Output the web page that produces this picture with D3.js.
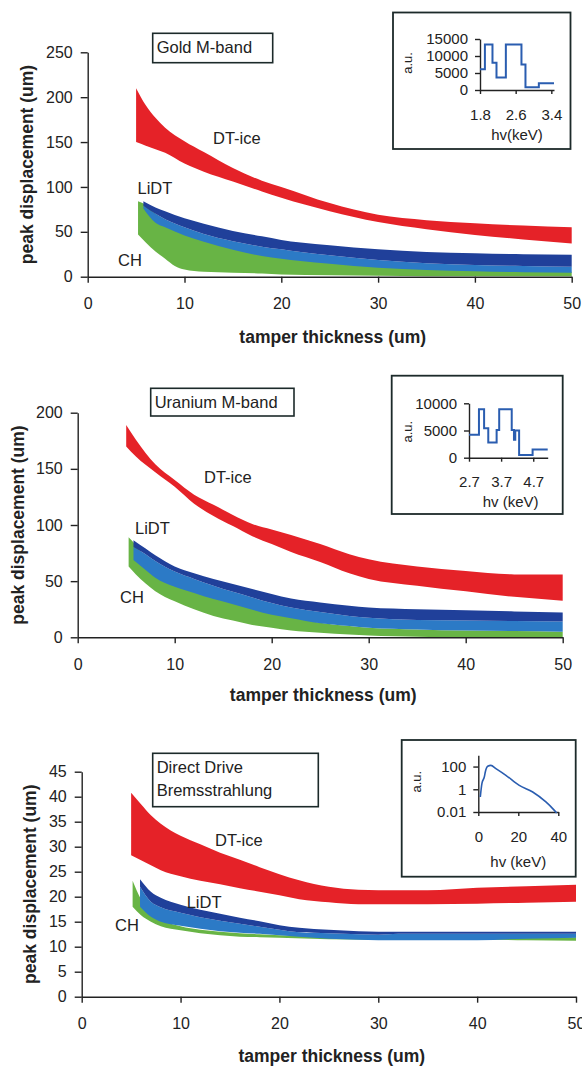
<!DOCTYPE html>
<html>
<head>
<meta charset="utf-8">
<script src="https://cdn.jsdelivr.net/npm/d3@7"></script>
<style>
  body { margin: 0; background: #fff; }
  svg { display: block; font-family: "Liberation Sans", Arial, sans-serif; }
</style>
</head>
<body>
<svg id="chart" width="582" height="1066"></svg>
<script>
// ---- Gold M-band ----
const goldDtX = [5, 6, 7, 8, 10, 12, 15, 18, 20, 25, 30, 35, 40, 45, 50];
const goldDtHi = [210, 191, 177, 166, 151, 139, 121, 107, 100, 82, 69, 63, 59.5, 57, 55];
const goldDtLo = [150, 146, 142, 138, 126, 117, 106, 95, 88, 73, 61, 53, 46.5, 41.5, 37];
const goldLiX = [5.75, 7, 8, 10, 12, 15, 18, 20, 22, 25, 30, 35, 40, 45, 50];
const goldLiTop = [84, 77, 73, 65, 59, 51, 45, 41, 38, 35, 30.5, 27.5, 26, 25, 24.5];
const goldLiMid = [79, 70, 64, 55, 47.5, 39.5, 33.5, 30.5, 27.5, 24, 18.5, 15, 13, 12, 11];
const goldLiBot = [76, 60, 55, 46, 39, 30, 23, 20, 17.5, 14.5, 10, 7.5, 6, 5, 4.5];
const goldChX = [5.2, 6, 7, 8, 9, 10, 12, 15, 18, 20, 25, 30, 35, 40, 45, 50];
const goldChTop = [84, 80, 70, 62, 56, 51, 42, 33, 26, 22, 16, 11.5, 8.5, 7, 6, 5.5];
const goldChBot = [47, 38, 28, 20, 12, 8, 5.5, 4.5, 3.5, 2.5, 1.5, 1, 0.5, 0.5, 0.5, 0.5];
const goldSpecX = [1.8, 1.91, 2.08, 2.17, 2.38, 2.73, 2.82, 3.12, 3.46];
const goldSpecY = [6100, 13400, 8000, 3700, 13400, 7500, 800, 2000, 2000];

// ---- Uranium M-band ----
const uDtX = [5, 6, 8, 10, 12, 14, 16, 18, 20, 22, 25, 28, 30, 35, 40, 45, 50];
const uDtHi = [189, 176, 154, 140, 127, 118, 109, 101, 96, 91, 83, 74, 69.5, 63, 59, 56, 56];
const uDtLo = [170, 161, 147, 134, 119, 108, 99, 90, 83, 76, 67, 57, 52, 46, 41, 36, 32.5];
const uLiX = [5.75, 7, 8, 10, 12, 14, 16, 18, 20, 22, 25, 28, 30, 35, 40, 45, 50];
const uLiTop = [86.5, 79, 73, 63, 57, 52, 47.5, 43, 38.5, 34.5, 31, 28, 26.5, 25, 24, 23, 22];
const uLiMid = [80.5, 74, 68, 58.5, 52, 46, 40.5, 35.5, 30.5, 26.5, 22.5, 19, 17.5, 15.5, 15, 14.5, 14];
const uLiBot = [68.8, 60, 53, 45, 39.5, 34, 29.5, 24.5, 20, 17, 12.5, 10, 8.5, 7, 6, 5.5, 5];
const uChX = [5.25, 6, 7, 8, 10, 12, 14, 16, 18, 20, 22, 25, 28, 30, 35, 40, 45, 50];
const uChTop = [89, 82, 70, 62, 50, 43, 37, 32, 26.5, 21.5, 18, 13, 10, 8.5, 7, 6, 5.5, 5];
const uChBot = [63, 56, 48, 41, 32, 25, 19, 15, 11, 8.5, 6, 4, 2.5, 1.5, 0.5, 0, 0, 0];
const uSpecX = [2.7, 3.01, 3.17, 3.3, 3.56, 3.64, 4.03, 4.1, 4.14, 4.26, 4.68, 5.15];
const uSpecY = [4200, 8900, 5400, 2800, 5100, 8900, 5100, 3300, 5000, 500, 1500, 1500];

// ---- Direct Drive Bremsstrahlung ----
const ddDtX = [5, 6, 7, 8, 10, 12, 14, 16, 18, 20, 22, 25, 28, 30, 35, 40, 45, 50];
const ddDtHi = [40.8, 38.5, 36.3, 34.6, 32.2, 30.5, 28.8, 27.4, 25.9, 24.5, 23.3, 22, 21.4, 21.3, 21.3, 21.8, 22.1, 22.4];
const ddDtLo = [28.3, 27.3, 26.3, 25.3, 24.1, 23.2, 22.5, 21.7, 21, 20.3, 19.5, 18.9, 18.5, 18.5, 18.5, 18.6, 18.8, 19];
const ddLiX = [5.9, 7, 8, 10, 12, 14, 16, 18, 20, 22, 25, 28, 30, 32, 35, 40, 45, 50];
const ddLiTop = [23.5, 21, 19.8, 18.4, 17.4, 16.6, 15.8, 15.1, 14.3, 13.8, 13.4, 13.1, 13, 13, 13, 13, 13, 13];
const ddLiMid = [22, 19, 17.9, 16.8, 15.9, 15.2, 14.6, 14, 13.4, 12.9, 12.7, 12.5, 12.4, 12.6, 12.6, 12.6, 12.6, 12.6];
const ddLiBot = [18, 16, 15, 14.2, 13.6, 13.1, 12.8, 12.6, 12.3, 12, 11.6, 11.4, 11.3, 11.3, 11.3, 11.3, 11.6, 11.8];
const ddChX = [5.15, 6, 7, 8, 10, 12, 14, 16, 18, 20, 25, 30, 35, 40, 45, 50];
const ddChTop = [23.2, 19.5, 17, 15.5, 14.1, 13.4, 13, 12.7, 12.5, 12.3, 12, 11.8, 11.7, 11.7, 11.8, 11.9];
const ddChBot = [18, 16.3, 15, 14.1, 13.3, 12.7, 12.3, 12, 11.9, 11.8, 11.5, 11.4, 11.4, 11.4, 11.3, 11.2];
const ddSpecX = [1, 1.8, 3, 3.5, 4.7, 6.3, 8.8, 13.8, 20.5, 27.2, 33.8, 37.2, 39.2];
const ddSpecY = [0.21, 3.2, 12, 33, 105, 126, 66, 17, 2.2, 0.58, 0.077, 0.02, 0.008];

// ---- axis ticks ----
const xTicks = [0, 10, 20, 30, 40, 50];
const goldYTicks = [0, 50, 100, 150, 200, 250];
const uYTicks = [0, 50, 100, 150, 200];
const ddYTicks = [0, 5, 10, 15, 20, 25, 30, 35, 40, 45];
const goldSpecXTicks = [1.8, 2.6, 3.4];
const goldSpecYTicks = [0, 5000, 10000, 15000];
const uSpecXTicks = [2.7, 3.7, 4.7];
const uSpecYTicks = [0, 5000, 10000];
const ddSpecXTicks = [0, 20, 40];
const ddSpecYTicks = [0.01, 1, 100];

const RED = '#e52228';
const NAVY = '#20409a';
const BLUE = '#2c7ac6';
const GREEN = '#68b445';
const INK = '#222';

const svg = d3.select('#chart');

function band(g, x, y, xs, lo, hi, color) {
  const rows = xs.map((d, i) => ({ x: d, lo: lo[i], hi: hi[i] }));
  g.append('path')
    .datum(rows)
    .attr('fill', color)
    .attr('d', d3.area()
      .curve(d3.curveMonotoneX)
      .x(d => x(d.x))
      .y0(d => y(d.lo))
      .y1(d => y(d.hi)));
}

function styleAxis(sel, fontSize) {
  sel.select('.domain').attr('stroke', INK).attr('stroke-width', 1.4);
  sel.selectAll('.tick line').attr('stroke', INK).attr('stroke-width', 1.4);
  sel.selectAll('.tick text').attr('fill', INK).style('font-size', fontSize + 'px');
}

function drawInset(o) {
  const g = svg.append('g');
  g.append('rect')
    .attr('x', o.box[0]).attr('y', o.box[1])
    .attr('width', o.box[2] - o.box[0]).attr('height', o.box[3] - o.box[1])
    .attr('fill', '#fff').attr('stroke', '#1c2a2a').attr('stroke-width', 1.8);

  const x = d3.scaleLinear().domain(o.xDomain).range([o.left, o.right]);
  const y = (o.log ? d3.scaleLog() : d3.scaleLinear()).domain(o.yDomain).range([o.bottom, o.top]);

  g.append('g')
    .attr('transform', `translate(0,${ o.bottom })`)
    .call(d3.axisBottom(x).tickValues(o.xTicks).tickFormat(o.xFormat).tickSize(4).tickPadding(15).tickSizeOuter(0))
    .call(s => styleAxis(s, 15));
  g.append('g')
    .attr('transform', `translate(${ o.left },0)`)
    .call(d3.axisLeft(y).tickValues(o.yTicks).tickFormat(o.yFormat).tickSize(5).tickPadding(7).tickSizeOuter(0))
    .call(s => styleAxis(s, 15));

  const rows = o.xs.map((d, i) => ({ x: d, y: o.ys[i] }));
  g.append('path')
    .datum(rows)
    .attr('fill', 'none')
    .attr('stroke', '#2a5db0')
    .attr('stroke-width', o.log ? 1.6 : 2)
    .attr('d', d3.line()
      .curve(o.log ? d3.curveMonotoneX : d3.curveStepAfter)
      .x(d => x(d.x))
      .y(d => y(d.y)));

  g.append('text')
    .attr('transform', `translate(${ o.auPos[0] },${ o.auPos[1] }) rotate(-90)`)
    .attr('text-anchor', 'middle').attr('dominant-baseline', 'central')
    .attr('fill', INK).style('font-size', '13px')
    .text('a.u.');
  g.append('text')
    .attr('x', o.hvPos[0]).attr('y', o.hvPos[1])
    .attr('text-anchor', 'middle').attr('dominant-baseline', 'central')
    .attr('fill', INK).style('font-size', '15px')
    .text(o.hvText);
}

function drawPanel(p) {
  const g = svg.append('g');
  const x = d3.scaleLinear().domain([0, 50]).range([p.left, p.right]);
  const y = d3.scaleLinear().domain([0, p.yMax]).range([p.bottom, p.top]);

  band(g, x, y, p.dtX, p.dtLo, p.dtHi, RED);
  band(g, x, y, p.chX, p.chBot, p.chTop, GREEN);
  band(g, x, y, p.liX, p.liBot, p.liMid, BLUE);
  band(g, x, y, p.liX, p.liMid, p.liTop, NAVY);

  g.append('g')
    .attr('transform', `translate(0,${ p.bottom })`)
    .call(d3.axisBottom(x).tickValues(xTicks).tickSize(6).tickPadding(15).tickSizeOuter(0))
    .call(s => styleAxis(s, 16));
  g.append('g')
    .attr('transform', `translate(${ p.left },0)`)
    .call(d3.axisLeft(y).tickValues(p.yTicks).tickSize(7).tickPadding(8).tickSizeOuter(0))
    .call(s => styleAxis(s, 16));

  g.append('text')
    .attr('x', (p.left + p.right) / 2 + 3).attr('y', p.xTitleY)
    .attr('text-anchor', 'middle').attr('dominant-baseline', 'central')
    .attr('fill', INK).style('font-size', '17.5px').style('font-weight', 'bold')
    .text('tamper thickness (um)');
  g.append('text')
    .attr('transform', `translate(${ p.yTitleX },${ (p.top + p.bottom) / 2 }) rotate(-90)`)
    .attr('text-anchor', 'middle').attr('dominant-baseline', 'central')
    .attr('fill', INK).style('font-size', '17.5px').style('font-weight', 'bold')
    .text('peak displacement (um)');

  // title box
  g.append('rect')
    .attr('x', p.box[0]).attr('y', p.box[1])
    .attr('width', p.box[2] - p.box[0]).attr('height', p.box[3] - p.box[1])
    .attr('fill', '#fff').attr('stroke', '#1c2a2a').attr('stroke-width', 1.6);
  p.title.forEach((t, i) => {
    g.append('text')
      .attr('x', p.box[0] + 4).attr('y', p.titleY[i])
      .attr('dominant-baseline', 'central')
      .attr('fill', INK).style('font-size', '16.5px')
      .text(t);
  });

  p.labels.forEach(l => {
    g.append('text')
      .attr('x', l[1]).attr('y', l[2])
      .attr('dominant-baseline', 'central')
      .attr('fill', INK).style('font-size', '16.5px')
      .text(l[0]);
  });

  drawInset(p.inset);
}

const thousands = d3.format('d');

drawPanel({
  left: 87.7, right: 571.7, top: 52.3, bottom: 276.7, yMax: 250, yTicks: goldYTicks,
  xTitleY: 337, yTitleX: 27,
  dtX: goldDtX, dtLo: goldDtLo, dtHi: goldDtHi,
  liX: goldLiX, liBot: goldLiBot, liMid: goldLiMid, liTop: goldLiTop,
  chX: goldChX, chBot: goldChBot, chTop: goldChTop,
  box: [152.7, 33.3, 272.7, 62.7], title: ['Gold M-band'], titleY: [47],
  labels: [['DT-ice', 213, 138], ['LiDT', 137.5, 187.5], ['CH', 118, 260]],
  inset: {
    box: [393, 12.5, 570.5, 149],
    left: 480, right: 554, top: 39, bottom: 90,
    xDomain: [1.8, 3.46], yDomain: [0, 15000],
    xTicks: goldSpecXTicks, yTicks: goldSpecYTicks,
    xFormat: d3.format('.1f'), yFormat: thousands,
    xs: goldSpecX, ys: goldSpecY,
    auPos: [407, 63], hvPos: [517, 134], hvText: 'hv(keV)'
  }
});

drawPanel({
  left: 77.7, right: 562.7, top: 412.7, bottom: 637.3, yMax: 200, yTicks: uYTicks,
  xTitleY: 695, yTitleX: 18,
  dtX: uDtX, dtLo: uDtLo, dtHi: uDtHi,
  liX: uLiX, liBot: uLiBot, liMid: uLiMid, liTop: uLiTop,
  chX: uChX, chBot: uChBot, chTop: uChTop,
  box: [150.7, 388.3, 294, 416], title: ['Uranium M-band'], titleY: [402],
  labels: [['DT-ice', 204, 476.7], ['LiDT', 135, 527.7], ['CH', 120, 597.3]],
  inset: {
    box: [391.7, 375.7, 562.7, 514],
    left: 469, right: 547.7, top: 403.3, bottom: 457.7,
    xDomain: [2.7, 5.15], yDomain: [0, 10000],
    xTicks: uSpecXTicks, yTicks: uSpecYTicks,
    xFormat: d3.format('.1f'), yFormat: thousands,
    xs: uSpecX, ys: uSpecY,
    auPos: [407, 431.7], hvPos: [510.7, 501.7], hvText: 'hv (keV)'
  }
});

drawPanel({
  left: 81.7, right: 576, top: 771.7, bottom: 996.7, yMax: 45, yTicks: ddYTicks,
  xTitleY: 1056, yTitleX: 30,
  dtX: ddDtX, dtLo: ddDtLo, dtHi: ddDtHi,
  liX: ddLiX, liBot: ddLiBot, liMid: ddLiMid, liTop: ddLiTop,
  chX: ddChX, chBot: ddChBot, chTop: ddChTop,
  box: [152.7, 753.3, 318.3, 806.7], title: ['Direct Drive', 'Bremsstrahlung'], titleY: [767, 789.5],
  labels: [['DT-ice', 215, 840], ['LiDT', 186.7, 901.7], ['CH', 115, 925]],
  inset: {
    box: [401.7, 740, 575.7, 876.7],
    left: 478.3, right: 558.3, top: 755.2, bottom: 812,
    xDomain: [0, 40], yDomain: [0.01, 1000], log: true,
    xTicks: ddSpecXTicks, yTicks: ddSpecYTicks,
    xFormat: d3.format('d'), yFormat: d => (d < 1 ? '0.01' : String(d)),
    xs: ddSpecX, ys: ddSpecY,
    auPos: [416.7, 781.7], hvPos: [518.3, 861.7], hvText: 'hv (keV)'
  }
});
</script>
</body>
</html>
